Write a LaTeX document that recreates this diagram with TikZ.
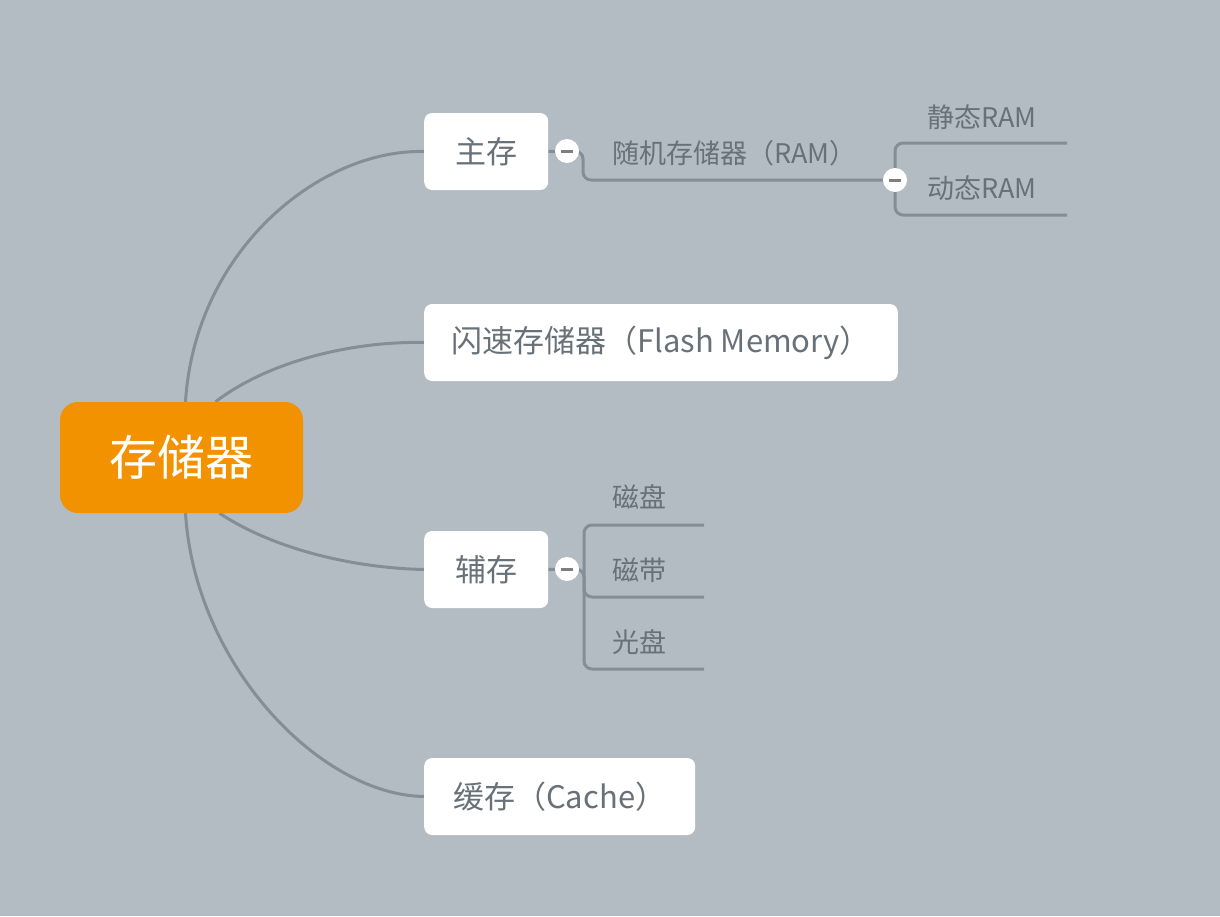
\documentclass[tikz,border=0pt]{standalone}
\usepackage{fontspec}
\setmainfont{Noto Sans CJK SC}
\usetikzlibrary{backgrounds}
\definecolor{bggray}{HTML}{B3BBC3}
\definecolor{rootorange}{HTML}{F39200}
\definecolor{linegray}{HTML}{858E96}
\definecolor{textgray}{HTML}{687178}
\definecolor{dashgray}{HTML}{7E7E7E}

\begin{document}
\begin{tikzpicture}[x=1pt,y=-1pt,
	rootbox/.style={fill=rootorange,text=white,rounded corners=18pt,minimum width=243pt,minimum height=111pt,font=\fontsize{48}{56}\selectfont},
	box/.style={fill=white,text=textgray,rounded corners=8pt,anchor=west,inner xsep=29pt,minimum height=77pt,minimum width=124pt,font=\fontsize{31}{37}\selectfont},
	leaf/.style={text=textgray,anchor=west,inner sep=0pt,font=\fontsize{27}{32}\selectfont},
	branch/.style={draw=linegray,line width=3pt},
	minus/.style={circle,fill=white,minimum size=24pt,inner sep=0pt,
		path picture={\draw[dashgray,line width=3pt] ([xshift=-6pt]path picture bounding box.center) -- ([xshift=6pt]path picture bounding box.center);}}]
	\begin{scope}[on background layer]
		\fill[bggray] (0,0) rectangle (1220,916);
	\end{scope}
	\node[rootbox] (root) at (181.5,457.5) {存储器};
	\node[box] (main) at (424,151.5) {主存};
	\node[box,inner xsep=27pt] (flash) at (424,342.5) {闪速存储器（Flash Memory）};
	\node[box] (aux) at (424,569.5) {辅存};
	\node[box] (cache) at (424,796.5) {缓存（Cache）};
	\node[minus] (m1) at (567,151) {};
	\node[minus] (m2) at (895,180) {};
	\node[minus] (m3) at (567,569) {};
	\node[leaf] (ram) at (612,153) {随机存储器（RAM）};
	\node[leaf] (sram) at (927,117) {静态RAM};
	\node[leaf] (dram) at (927,188) {动态RAM};
	\node[leaf] (disk) at (612,497) {磁盘};
	\node[leaf] (tape) at (612,570) {磁带};
	\node[leaf] (cd) at (612,642) {光盘};
	\coordinate (sramend) at (1067,143);
	\coordinate (dramend) at (1067,215);
	\coordinate (diskend) at (704,525);
	\coordinate (tapeend) at (704,597);
	\coordinate (cdend) at (704,669);
	\begin{scope}[on background layer]
		\draw[branch] ([xshift=4pt]root.north) .. controls (195,250) and (320,149) .. (main.west);
		\draw[branch] ([xshift=34pt]root.north) .. controls (270,360) and (355,341) .. (flash.west);
		\draw[branch] ([xshift=38pt]root.south) .. controls (275,550) and (355,568) .. (aux.west);
		\draw[branch] ([xshift=4pt]root.south) .. controls (195,665) and (320,795) .. (cache.west);
		\draw[branch] (main.east) -- (m1);
		\draw[branch,rounded corners=8pt] (m1.east) -- ([xshift=16pt]m1.center) |- (m2.west);
		\draw[branch,rounded corners=8pt] (sramend) -| (m2.center) |- (dramend);
		\draw[branch] (aux.east) -- (m3);
		\draw[branch,rounded corners=8pt] (diskend) -| ([xshift=17pt]m3.center) |- (cdend);
		\draw[branch,rounded corners=8pt] (m3.east) -- ([xshift=17pt]m3.center) |- (tapeend);
	\end{scope}
\end{tikzpicture}
\end{document}
